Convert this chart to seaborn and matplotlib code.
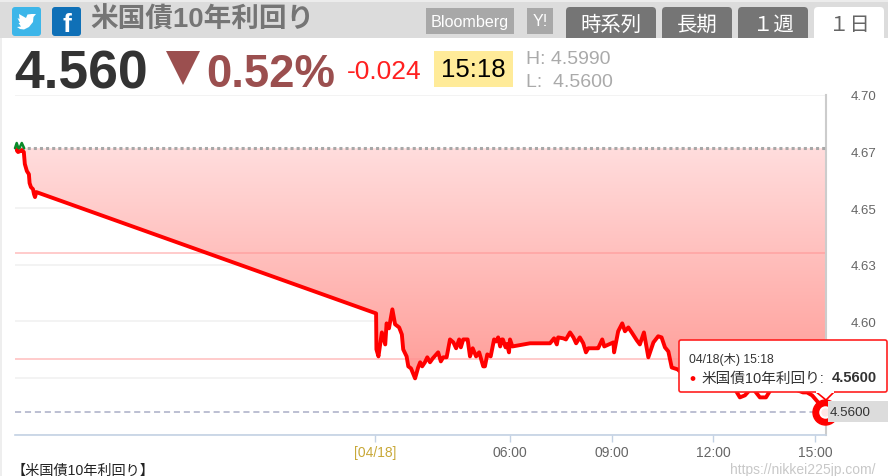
import numpy as np
import matplotlib
matplotlib.use('Agg')
import matplotlib.pyplot as plt
from matplotlib.patches import Rectangle, FancyBboxPatch, Polygon, Circle
import pandas as pd
import seaborn as sns

# hours on the chart's time axis (the previous session runs below zero)
hours = [-8.57, -8.51, -8.45, -8.40, -8.34, -8.31, -8.25, -8.19, -8.17, -8.13, -8.07, -8.04, -8.01, -7.97,
         2.05, 2.06, 2.12, 2.22, 2.32, 2.36, 2.43, 2.53, 2.61, 2.73, 2.81, 2.85, 2.95, 3.00, 3.08, 3.20,
         3.29, 3.35, 3.41, 3.49, 3.56, 3.64, 3.72, 3.88, 3.96, 4.03, 4.13, 4.23, 4.33, 4.41, 4.50, 4.55,
         4.62, 4.75, 4.82, 4.90, 5.00, 5.09, 5.21, 5.26, 5.33, 5.43, 5.53, 5.59, 5.65, 5.71, 5.76, 5.79,
         5.87, 5.91, 5.97, 6.00, 6.07, 6.59, 7.18, 7.30, 7.38, 7.42, 7.57, 7.65, 7.77, 7.87, 7.95, 8.06,
         8.16, 8.24, 8.31, 8.56, 8.60, 8.72, 8.78, 9.05, 9.07, 9.19, 9.31, 9.39, 9.49, 9.59, 9.74, 9.83,
         9.95, 10.08, 10.23, 10.37, 10.47, 10.57, 10.67, 10.77, 10.94, 11.01, 11.60, 12.19, 12.64, 12.78,
         12.93, 13.14, 13.37, 13.55, 13.73, 14.26, 14.64, 14.76, 14.91, 15.14, 15.29]
yields = [4.6761, 4.6748, 4.6752, 4.6757, 4.6748, 4.6695, 4.6664, 4.6650, 4.6611, 4.6593, 4.6584, 4.6562, 4.6549, 4.6571,
          4.6035, 4.5876, 4.5845, 4.5951, 4.5898, 4.5991, 4.5969, 4.6053, 4.5987, 4.5973, 4.5942, 4.5876, 4.5845, 4.5801, 4.5792, 4.5748,
          4.5796, 4.5819, 4.5801, 4.5819, 4.5841, 4.5819, 4.5836, 4.5863, 4.5823, 4.5841, 4.5841, 4.5920, 4.5907, 4.5881, 4.5920, 4.5885,
          4.5920, 4.5920, 4.5845, 4.5881, 4.5845, 4.5863, 4.5801, 4.5801, 4.5854, 4.5845, 4.5920, 4.5911, 4.5929, 4.5889, 4.5920, 4.5920,
          4.5885, 4.5900, 4.5863, 4.5920, 4.5889, 4.5903, 4.5903, 4.5925, 4.5898, 4.5929, 4.5925, 4.5920, 4.5951, 4.5929, 4.5903, 4.5929,
          4.5903, 4.5863, 4.5881, 4.5881, 4.5881, 4.5920, 4.5889, 4.5907, 4.5863, 4.5956, 4.5991, 4.5956, 4.5973, 4.5951, 4.5916, 4.5898,
          4.5951, 4.5841, 4.5907, 4.5934, 4.5929, 4.5885, 4.5867, 4.5796, 4.5788, 4.5779, 4.5752, 4.5721, 4.5699, 4.5664,
          4.5673, 4.5708, 4.5664, 4.5664, 4.5708, 4.5708, 4.5686, 4.5686, 4.5673, 4.5633, 4.5600]

green_hours = [-8.60, -8.55, -8.50, np.nan, -8.47, -8.40, -8.33]
green_yields = [4.6765, 4.6788, 4.6765, np.nan, 4.6765, 4.6788, 4.6765]

y_ticks = [4.70, 4.675, 4.65, 4.625, 4.60, 4.575, 4.55]
# the 4.58 label sits behind the tooltip in the original, so it stays blank
y_labels = ['4.70', '4.67', '4.65', '4.63', '4.60', '', '']
x_ticks = [2.02, 6, 9, 12, 15]
x_labels = ['[04/18]', '06:00', '09:00', '12:00', '15:00']

open_level = 4.6765
band_levels = [4.6301, 4.5832]
last_level = 4.5600

sns.set_theme(style='white')
plt.rcParams['font.family'] = ['Liberation Sans', 'Noto Sans CJK JP', 'DejaVu Sans']

fig = plt.figure(figsize=(8.88, 4.77), dpi=100)
W, H = 888, 477
ax = fig.add_axes([15 / W, 1 - 435.5 / H, 811 / W, 339.5 / H])
df = pd.DataFrame({'hour': hours, 'yield': yields})

# gradient fill between the opening level and the line
fill = ax.fill_between(hours, yields, open_level, color='none', zorder=1)
grad = np.linspace(0, 1, 256).reshape(-1, 1)
cmap = matplotlib.colors.LinearSegmentedColormap.from_list('g', ['#ffdddd', '#ff9d98'])
img = ax.imshow(grad, cmap=cmap, aspect='auto', zorder=1,
                extent=[-8.6, 15.32, 4.575, open_level])
img.set_clip_path(fill.get_paths()[0], transform=ax.transData)

for lv in band_levels:
    ax.axhline(lv, color='#ff9090', alpha=0.55, lw=1.2, zorder=2)
ax.axhline(open_level, color='#a8a8a8', lw=2.2, ls=(0, (1, 1)), zorder=3)
ax.axhline(last_level, color='#a9aec6', lw=1.1, ls=(0, (4, 2.5)), zorder=3)

sns.lineplot(data=df, x='hour', y='yield', color='#ff0000', lw=2.8, estimator=None,
             sort=False, ax=ax, zorder=5, solid_joinstyle='round')
ax.plot(green_hours, green_yields, color='#0a8a2a', lw=1.8, zorder=6, clip_on=False)

# last point marker
ax.plot(hours[-1], yields[-1], 'o', ms=18, color='#ff0000', zorder=7, clip_on=False)
ax.plot(hours[-1], yields[-1], 'o', ms=7.5, mfc='#ffe6e6', mec='white', mew=1.5, zorder=8, clip_on=False)

ax.set_xlim(-8.6, 15.32)
ax.set_ylim(4.55, 4.70)
ax.set_xlabel('')
ax.set_ylabel('')
ax.set_yticks(y_ticks)
ax.set_yticklabels(y_labels)
ax.set_xticks(x_ticks)
ax.set_xticklabels(x_labels)
ax.yaxis.tick_right()
ax.grid(axis='y', color='#f1f1f1', lw=1.2)
ax.set_axisbelow(True)
ax.tick_params(axis='y', length=0, pad=18, labelsize=9.5, labelcolor='#666666')
ax.tick_params(axis='x', length=5, width=1, color='#c4d2e4', pad=2.5, labelsize=10, labelcolor='#666666', bottom=True)
ax.get_xticklabels()[0].set_color('#c8a838')
sns.despine(ax=ax, left=True, top=True, right=False)
ax.spines['bottom'].set_color('#c4d2e4')
ax.spines['bottom'].set_linewidth(1.2)
ax.spines['right'].set_color('#cccccc')
ax.spines['right'].set_linewidth(1.5)

# page furniture, laid out in pixels
ov = fig.add_axes([0, 0, 1, 1], zorder=10)
ov.set_xlim(0, W)
ov.set_ylim(H, 0)
ov.axis('off')
ov.patch.set_alpha(0)


def rect(x0, y0, x1, y1, color, z=1):
    ov.add_patch(Rectangle((x0, y0), x1 - x0, y1 - y0, fc=color, ec='none', zorder=z))


def rounded(x0, y0, x1, y1, color, r=3, z=2, ec='none', lw=0):
    ov.add_patch(FancyBboxPatch((x0 + r, y0 + r), x1 - x0 - 2 * r, y1 - y0 - 2 * r,
                                boxstyle=f'round,pad={r},rounding_size={r}',
                                fc=color, ec=ec, lw=lw, zorder=z))


rect(0, 0, W, 3, '#ececec')
rect(0, 3, W, 39, '#dcdcdc')
rect(0, 39, 2, H, '#eeeeee')

# social icons
rounded(12, 8, 41, 37, '#3db6e9')
ov.add_patch(Polygon([(17, 28), (21, 27.5), (18.5, 24), (20, 24), (17.5, 19), (19.5, 20), (19, 15), (26, 19),
                      (27.5, 15.5), (31.5, 15), (36, 15), (33.5, 18), (33, 23), (29, 28), (24, 30.5), (20, 30)],
                     fc='white', ec='none', zorder=3))
rounded(52, 8, 81, 37, '#0f70b7')
ov.text(67, 25, 'f', color='white', fontsize=19, fontweight='bold', ha='center', va='center', zorder=3)

ov.text(90, 21, '米国債10年利回り', color='#757575', fontsize=19.9, fontweight='bold', ha='left', va='center', zorder=3)

rect(426, 9, 514, 35, '#a8a8a8', 2)
ov.text(470, 22, 'Bloomberg', color='white', fontsize=11.6, ha='center', va='center', zorder=3)
rect(527, 9, 553, 35, '#a8a8a8', 2)
ov.text(540, 21, 'Y!', color='white', fontsize=11.6, ha='center', va='center', zorder=3)

tabs = [(566, 656, '時系列'), (662, 732, '長期'), (738, 808, '１週'), (814, 884, '１日')]
for x0, x1, label in tabs:
    active = label == '１日'
    rounded(x0, 8, x1, 46, 'white' if active else '#757575', r=4)
    ov.text((x0 + x1) / 2, 25, label, color='#666666' if active else 'white', fontsize=14.7,
            ha='center', va='center', zorder=3)
rect(560, 39, 812, 46, 'white', 2.5)
rect(2, 39, W, 46, 'white', 2.4)

# price row
ov.text(14, 88.5, '4.560', color='#333333', fontsize=38.5, fontweight='bold', ha='left', va='baseline', zorder=3)
ov.add_patch(Polygon([(166, 52), (200, 52), (183, 86)], fc='#9b4f4f', ec='none', zorder=3))
ov.text(206, 87, '0.52%', color='#9b4f4f', fontsize=32.8, fontweight='bold', ha='left', va='baseline', zorder=3)
ov.text(347, 79, '-0.024', color='#ff2020', fontsize=19, ha='left', va='baseline', zorder=3)
rect(434, 52, 513, 88, '#ffeb99', 2)
ov.text(473.5, 70, '15:18', color='black', fontsize=18.5, ha='center', va='center', zorder=3)
ov.text(526, 64, 'H: 4.5990', color='#aaaaaa', fontsize=14, ha='left', va='baseline', zorder=3)
ov.text(526, 87, 'L:  4.5600', color='#aaaaaa', fontsize=14, ha='left', va='baseline', zorder=3)

# value flag on the right axis
rect(828, 402, 888, 423, '#dcdcdc', 2)
ov.text(830, 413, '4.5600', color='#333333', fontsize=9.6, ha='left', va='center', zorder=3)

# tooltip
ov.add_patch(Polygon([(815, 392), (826, 401), (835, 392)], fc='white', ec='#ff0000', lw=1.2, zorder=4))
rounded(679, 341, 887, 393, 'white', r=2, z=4, ec='#ff2020', lw=1.2)
rect(816, 390, 834, 393.5, 'white', 5)
ov.text(689, 360, '04/18(木) 15:18', color='#333333', fontsize=8.8, ha='left', va='center', zorder=6)
ov.add_patch(Circle((693, 379.5), 2.4, fc='#ff0000', ec='none', zorder=6))
ov.text(701, 378.5, '米国債10年利回り:', color='#333333', fontsize=10.5, ha='left', va='center', zorder=6)
ov.text(877, 378.5, '4.5600', color='#333333', fontsize=10.5, fontweight='bold', ha='right', va='center', zorder=6)

ov.text(12, 470.5, '【米国債10年利回り】', color='#222222', fontsize=10.2, ha='left', va='center', zorder=3)
ov.text(875, 470, 'https://nikkei225jp.com/', color='#c8c8c8', fontsize=10, ha='right', va='center', zorder=3)

fig.savefig('out.png', dpi=100)
